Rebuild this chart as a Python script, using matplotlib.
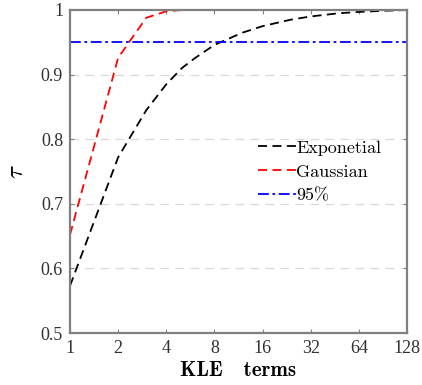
import matplotlib
matplotlib.use("Agg")
import matplotlib.pyplot as plt
from matplotlib.ticker import FixedLocator, FixedFormatter, NullLocator

# number of KLE terms and the captured-energy ratio tau
n_exp = [1, 2, 3, 4, 5, 6, 8, 12, 16, 24, 32, 48, 64, 96, 128]
tau_exp = [0.573, 0.772, 0.845, 0.885, 0.910, 0.925, 0.946, 0.965, 0.975,
           0.985, 0.990, 0.995, 0.997, 0.999, 1.0]

n_gau = [1, 2, 3, 4, 5, 8, 16, 32, 64, 128]
tau_gau = [0.652, 0.926, 0.988, 0.998, 1.0, 1.0, 1.0, 1.0, 1.0, 1.0]

level = 0.95
xticks = [1, 2, 4, 8, 16, 32, 64, 128]
yticks = [0.5, 0.6, 0.7, 0.8, 0.9, 1.0]
ytick_labels = ["0.5", "0.6", "0.7", "0.8", "0.9", "1"]

plt.rcParams["font.family"] = ["Liberation Serif", "DejaVu Serif"]
plt.rcParams["mathtext.fontset"] = "cm"

fig = plt.figure(figsize=(4.22, 3.85), dpi=100)
ax = fig.add_axes([70 / 422, 52 / 385, 337 / 422, 323 / 385])

ax.set_xscale("log", base=2)
ax.set_xlim(1, 128)
ax.set_ylim(0.5, 1.0)

for y in yticks[1:-1]:
    ax.axhline(y, color="#d9d9d9", lw=0.9, dashes=(7, 5), zorder=0)

ax.plot(n_exp, tau_exp, color="black", lw=1.3, dashes=(5, 3), label="Exponetial")
ax.plot(n_gau, tau_gau, color="#ff0000", lw=1.3, dashes=(5, 3), label="Gaussian")
ax.plot([1, 128], [level, level], color="#0000ff", lw=1.3,
        dashes=(6, 2, 1.5, 2), label="95%")

ax.xaxis.set_major_locator(FixedLocator(xticks))
ax.xaxis.set_major_formatter(FixedFormatter([str(t) for t in xticks]))
ax.xaxis.set_minor_locator(NullLocator())
ax.set_yticks(yticks)
ax.set_yticklabels(ytick_labels)

ax.tick_params(direction="in", length=3, width=0.8, color="#808080",
               top=True, right=True, labelsize=13, labelcolor="#303030", pad=5)
for s in ax.spines.values():
    s.set_color("#808080")
    s.set_linewidth(1.6)

ax.set_xlabel("KLE   terms", fontsize=15, family="cmb10", labelpad=3)
ax.set_ylabel(r"$\tau$", fontsize=18, labelpad=9)

leg = ax.legend(loc="upper left", bbox_to_anchor=(0.53, 0.625), frameon=False,
                fontsize=13, handlelength=2.1, handletextpad=0.05,
                labelspacing=0.45, borderpad=0)
for t in leg.get_texts():
    t.set_family("cmr10")

fig.savefig("out.png", dpi=100)
